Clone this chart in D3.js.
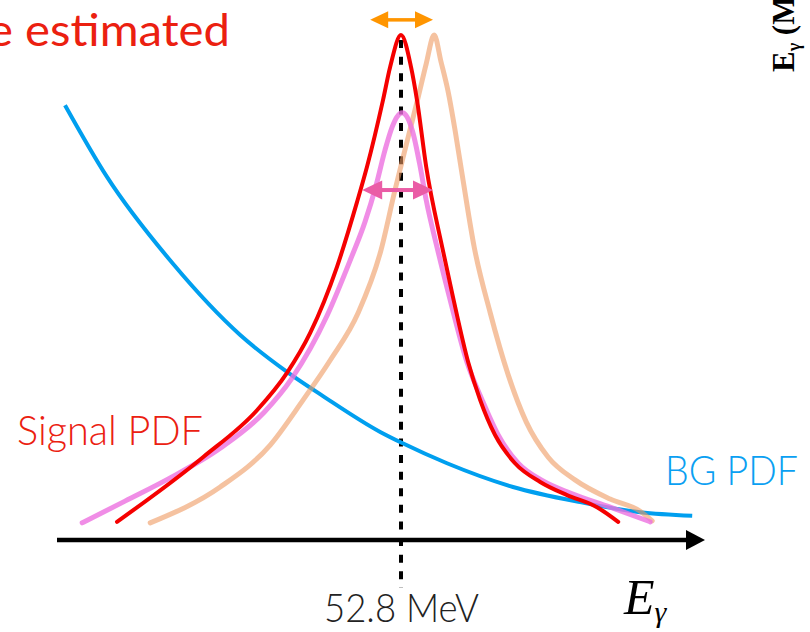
<!DOCTYPE html>
<html>
<head>
<meta charset="utf-8">
<script src="https://cdn.jsdelivr.net/npm/d3@7"></script>
<style>
  html, body { margin: 0; padding: 0; background: #fff; }
  svg { display: block; }
  .sans { font-family: "Lato", "Open Sans", "DejaVu Sans", sans-serif; }
</style>
</head>
<body>
<svg id="chart" width="810" height="632"></svg>
<script>
// Photon energy (MeV) vs. probability density (peak-normalised)
const peakEnergy = 52.8;
const axisRange = [44.2, 60.4];

// Background PDF: falling spectrum
const bgPdf = [
  [44.40, 0.861], [45.45, 0.719], [47.10, 0.547], [48.78, 0.406],
  [49.95, 0.333], [50.85, 0.285], [52.28, 0.214], [52.83, 0.192],
  [53.95, 0.152], [55.60, 0.105], [57.28, 0.075], [58.78, 0.055],
  [60.08, 0.048]
];

// Signal PDF (nominal)
const signalPdf = [
  [45.70, 0.036], [47.85, 0.164], [49.20, 0.257], [49.95, 0.331],
  [50.53, 0.410], [51.20, 0.541], [51.70, 0.669], [51.95, 0.739],
  [52.35, 0.871], [52.53, 0.937], [52.80, 1.000], [53.05, 0.937],
  [53.20, 0.871], [53.43, 0.739], [53.83, 0.580], [54.10, 0.481],
  [54.48, 0.352], [54.78, 0.277], [55.15, 0.208], [55.65, 0.152],
  [56.28, 0.115], [56.95, 0.089], [57.70, 0.065], [58.23, 0.036]
];

// Signal PDF with broader resolution
const signalWide = [
  [44.83, 0.034], [45.90, 0.077], [47.03, 0.123], [48.28, 0.182],
  [49.38, 0.253], [50.08, 0.321], [50.95, 0.444], [51.53, 0.554],
  [51.90, 0.630], [52.18, 0.703], [52.40, 0.772], [52.58, 0.818],
  [52.70, 0.838], [52.83, 0.846], [52.95, 0.838], [53.10, 0.806],
  [53.28, 0.739], [53.43, 0.673], [53.70, 0.580], [54.03, 0.475],
  [54.45, 0.352], [54.83, 0.277], [55.23, 0.208], [55.73, 0.152],
  [56.35, 0.117], [57.03, 0.093], [58.03, 0.065], [59.03, 0.036]
];

// Signal PDF with shifted energy scale
const signalShifted = [
  [46.53, 0.034], [48.28, 0.105], [49.53, 0.188], [50.35, 0.277],
  [51.03, 0.356], [51.73, 0.450], [52.30, 0.574], [52.65, 0.693],
  [52.98, 0.798], [53.23, 0.877], [53.43, 0.943], [53.63, 1.000],
  [53.80, 0.947], [53.98, 0.887], [54.15, 0.812], [54.35, 0.713],
  [54.63, 0.580], [55.03, 0.450], [55.48, 0.327], [55.93, 0.234],
  [56.48, 0.164], [57.15, 0.119], [58.03, 0.081], [58.78, 0.057],
  [59.08, 0.038]
];

// Double-headed arrows: [from E, to E, level]
const scaleArrow = [52.03, 53.60, 1.030];
const widthArrow = [51.83, 53.60, 0.693];

const svg = d3.select("#chart");
const x = d3.scaleLinear().domain(axisRange).range([57, 705]);
const y = d3.scaleLinear().domain([0, 1]).range([540, 35]);

const line = d3.line()
  .x(d => x(d[0]))
  .y(d => y(d[1]))
  .curve(d3.curveMonotoneX);

// dashed marker at the signal energy
svg.append("line")
  .attr("x1", x(peakEnergy)).attr("x2", x(peakEnergy))
  .attr("y1", y(0.99)).attr("y2", y(-0.095))
  .attr("stroke", "#000").attr("stroke-width", 4)
  .attr("stroke-dasharray", "8,8.6");

// energy axis with arrow
const axisY = y(0);
svg.append("line")
  .attr("x1", x(axisRange[0])).attr("x2", x(axisRange[1]) - 14)
  .attr("y1", axisY).attr("y2", axisY)
  .attr("stroke", "#000").attr("stroke-width", 4.5);
const tip = x(axisRange[1]);
svg.append("path")
  .attr("d", `M${tip},${axisY} L${tip - 19},${axisY - 10} L${tip - 19},${axisY + 10} Z`)
  .attr("fill", "#000");

const axis = d3.axisBottom(x)
  .tickValues([peakEnergy])
  .tickFormat(d => `${d} MeV`)
  .tickSize(0)
  .tickPadding(54);
const gAxis = svg.append("g").attr("transform", `translate(0,${axisY})`).call(axis);
gAxis.select(".domain").remove();
gAxis.selectAll("text")
  .attr("class", "sans")
  .attr("font-size", 39)
  .attr("font-weight", 300)
  .attr("fill", "#222")
  .attr("textLength", 155)
  .attr("lengthAdjust", "spacingAndGlyphs");

// curves
svg.append("path").datum(bgPdf).attr("d", line)
  .attr("fill", "none").attr("stroke", "#009FEF").attr("stroke-width", 4);

svg.append("path").datum(signalShifted).attr("d", line)
  .attr("fill", "none").attr("stroke", "#EE9960").attr("stroke-opacity", 0.6)
  .attr("stroke-width", 5).attr("stroke-linecap", "round");

svg.append("path").datum(signalWide).attr("d", line)
  .attr("fill", "none").attr("stroke", "#EC70E0").attr("stroke-opacity", 0.8)
  .attr("stroke-width", 5).attr("stroke-linecap", "round");

svg.append("path").datum(signalPdf).attr("d", line)
  .attr("fill", "none").attr("stroke", "#F50000")
  .attr("stroke-width", 4).attr("stroke-linecap", "round");

// double-headed arrows
function doubleArrow(spec, color, headLen, headHalf, shaft) {
  const x0 = x(spec[0]), x1 = x(spec[1]), yy = y(spec[2]);
  const g = svg.append("g").attr("fill", color);
  g.append("rect")
    .attr("x", x0 + headLen - 1).attr("y", yy - shaft / 2)
    .attr("width", x1 - x0 - 2 * headLen + 2).attr("height", shaft);
  g.append("path").attr("d",
    `M${x0},${yy} L${x0 + headLen},${yy - headHalf} L${x0 + headLen},${yy + headHalf} Z`);
  g.append("path").attr("d",
    `M${x1},${yy} L${x1 - headLen},${yy - headHalf} L${x1 - headLen},${yy + headHalf} Z`);
}
doubleArrow(scaleArrow, "#FF9500", 18, 8.5, 3.5);
doubleArrow(widthArrow, "#EA5CA6", 20, 9.5, 4);

// labels
svg.append("text").attr("class", "sans")
  .attr("x", 230).attr("y", 46)
  .attr("text-anchor", "end")
  .attr("font-size", 44)
  .attr("fill", "#EB2010")
  .attr("textLength", 242).attr("lengthAdjust", "spacingAndGlyphs")
  .text("e estimated");

svg.append("text").attr("class", "sans")
  .attr("x", 17).attr("y", 445)
  .attr("font-size", 41).attr("font-weight", 300)
  .attr("fill", "#EB2010")
  .attr("textLength", 186).attr("lengthAdjust", "spacingAndGlyphs")
  .text("Signal PDF");

svg.append("text").attr("class", "sans")
  .attr("x", 665).attr("y", 485)
  .attr("font-size", 41).attr("font-weight", 300)
  .attr("fill", "#0AA0F2")
  .attr("textLength", 133).attr("lengthAdjust", "spacingAndGlyphs")
  .text("BG PDF");

// axis title
const eLabel = svg.append("text")
  .attr("x", 624).attr("y", 614)
  .attr("font-family", "'Liberation Serif', 'DejaVu Serif', serif")
  .attr("font-style", "italic")
  .attr("font-size", 50)
  .attr("fill", "#000");
eLabel.append("tspan").text("E");
eLabel.append("tspan").attr("font-size", 30).attr("dy", 8).text("γ");

// rotated axis title at the right edge
const yLabel = svg.append("text")
  .attr("transform", "translate(794,72) rotate(-90)")
  .attr("font-family", "'Liberation Serif', 'DejaVu Serif', serif")
  .attr("font-weight", "bold")
  .attr("font-size", 31)
  .attr("fill", "#000");
yLabel.append("tspan").text("E");
yLabel.append("tspan").attr("font-size", 18).attr("dy", 6).text("γ");
yLabel.append("tspan").attr("dy", -6).text(" (MeV)");
</script>
</body>
</html>
